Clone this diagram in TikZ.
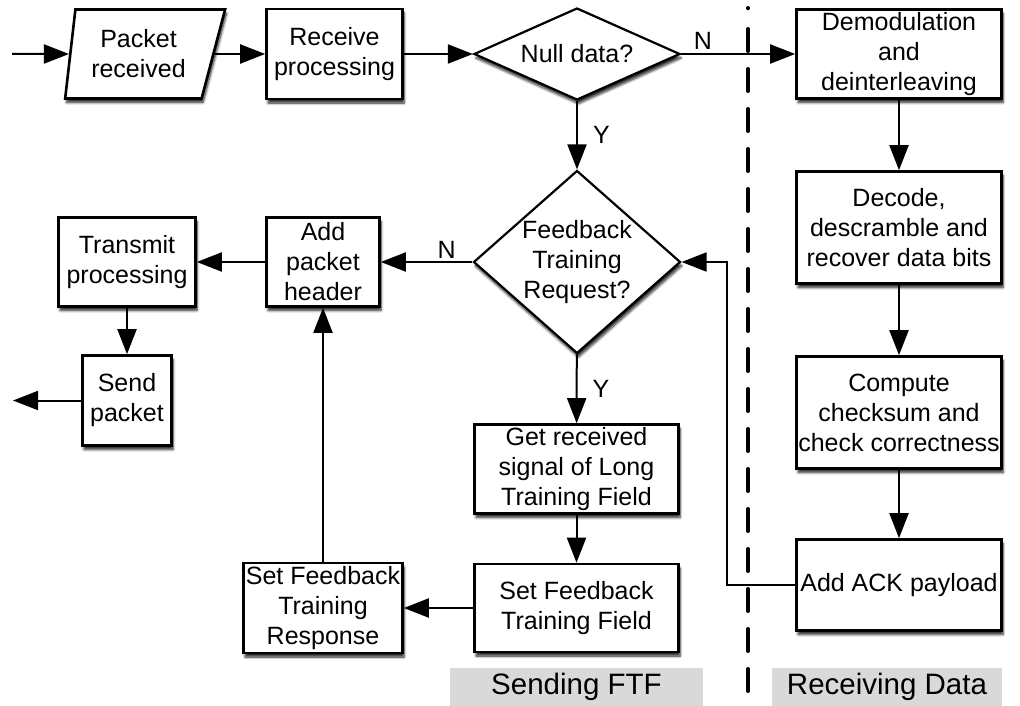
\documentclass[tikz,border=0pt]{standalone}
\usepackage{fontspec}
\setmainfont{Liberation Sans}
\usetikzlibrary{shapes.geometric,arrows.meta,shadows.blur}

\definecolor{tagbg}{RGB}{216,217,216}

\tikzset{
  shade/.style={blur shadow={shadow xshift=1.5pt, shadow yshift=-4pt,
      shadow blur radius=2.5pt, shadow blur steps=6, shadow opacity=85}},
  proc/.style={draw, line width=2.6pt, fill=white, align=center, inner sep=0pt,
      font=\fontsize{25}{30}\selectfont, shade},
  io/.style={proc, trapezium, trapezium left angle=81, trapezium right angle=110,
      trapezium stretches=true},
  decision/.style={diamond, draw, line width=2.2pt, fill=white, inner sep=0pt, shade},
  txt/.style={align=center, inner sep=0pt, font=\fontsize{25}{30}\selectfont},
  yn/.style={font=\fontsize{25}{30}\selectfont, inner sep=3pt},
  flow/.style={line width=2pt, -{Triangle[length=25pt,width=19pt]}},
  tag/.style={fill=tagbg, inner sep=0pt, font=\fontsize{29.5}{34}\selectfont},
  divider/.style={line width=4pt, line cap=round, dash pattern=on 22pt off 18pt},
}

\begin{document}
\begin{tikzpicture}[x=1pt, y=-1pt]
    \useasboundingbox (0,0) rectangle (1020,706);

    % divider between the two halves
    \draw[divider] (748,29) -- (748,712);
    \draw[divider] (748,8) -- (748,8.2);

    % section tags
    \node[tag, minimum width=253pt, minimum height=38pt] (sendtag) at (576.5,687) {Sending FTF};
    \node[tag, minimum width=230pt, minimum height=38pt] (recvtag) at (887,687) {Receiving Data};

    % top row
    \coordinate (in) at (12,54);
    \node[io, minimum width=160pt, minimum height=89pt] (pkt) at (138.5,54) {Packet\\received};
    \node[proc, minimum width=136pt, minimum height=90pt] (recv) at (334.5,54) {Receive\\processing};
    \node[decision, minimum width=206pt, minimum height=92pt] (null) at (577,54) {};
    \node[txt] (nulltxt) at (null) {Null data?};

    % receiving data column
    \node[proc, minimum width=205pt, minimum height=89pt] (demod) at (899,54) {Demodulation\\and\\deinterleaving};
    \node[proc, minimum width=205pt, minimum height=112pt] (decode) at (899,227.5) {Decode,\\descramble and\\recover data bits};
    \node[proc, minimum width=205pt, minimum height=112pt] (check) at (899,412.5) {Compute\\checksum and\\check correctness};
    \node[proc, minimum width=205pt, minimum height=91pt] (ack) at (899,585) {Add ACK payload};

    % feedback branch
    \node[decision, minimum width=207pt, minimum height=183pt] (fb) at (577,262) {};
    \node[txt] (fbtxt) at (fb) {Feedback\\Training\\Request?};
    \node[proc, minimum width=204pt, minimum height=89pt] (getsig) at (576.5,469) {Get received\\signal of Long\\Training Field};
    \node[proc, minimum width=204pt, minimum height=88pt] (setftf) at (576.5,608) {Set Feedback\\Training Field};
    \node[proc, minimum width=159pt, minimum height=90pt] (resp) at (323,608) {Set Feedback\\Training\\Response};

    % transmit side
    \node[proc, minimum width=113pt, minimum height=89pt] (hdr) at (323,262) {Add\\packet\\header};
    \node[proc, minimum width=137pt, minimum height=89pt] (tx) at (127,262) {Transmit\\processing};
    \node[proc, minimum width=89pt, minimum height=90pt] (send) at (127,400.5) {Send\\packet};
    \coordinate (out) at (13,400.5);

    % connectors
    \draw[flow] (in) -- (pkt);
    \draw[flow] (pkt) -- (recv);
    \draw[flow] (recv) -- (null);
    \draw[flow] (null) -- node[yn, above, pos=0.19] {N} (demod);
    \draw[flow] (null) -- node[yn, right=12pt] {Y} (fb);
    \draw[flow] (demod) -- (decode);
    \draw[flow] (decode) -- (check);
    \draw[flow] (check) -- (ack);
    \draw[flow] (ack.west) -- ++(-68,0) |- (fb.east);
    \draw[flow] (fb) -- node[yn, above, pos=0.28] {N} (hdr);
    \draw[flow] (fb) -- node[yn, right=12pt] {Y} (getsig);
    \draw[flow] (getsig) -- (setftf);
    \draw[flow] (setftf) -- (resp);
    \draw[flow] (resp) -- (hdr);
    \draw[flow] (hdr) -- (tx);
    \draw[flow] (tx) -- (send);
    \draw[flow] (send) -- (out);
\end{tikzpicture}
\end{document}
